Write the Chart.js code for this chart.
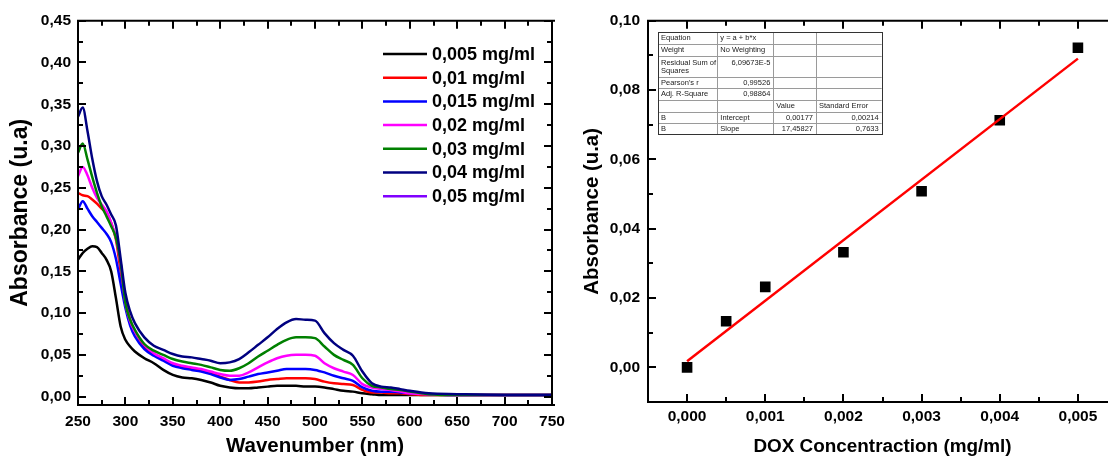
<!DOCTYPE html>
<html>
<head>
<meta charset="utf-8">
<script src="https://cdn.jsdelivr.net/npm/chart.js@4/dist/chart.umd.min.js"></script>
<style>
html,body{margin:0;padding:0;background:#fff;overflow:hidden;width:1108px;height:459px;}
#w1{position:absolute;left:0;top:0;width:590px;height:459px;}
#w2{position:absolute;left:560px;top:0;width:575px;height:459px;}
canvas{display:block;}
</style>
</head>
<body>
<div id="w1"><canvas id="c1" width="590" height="459"></canvas></div>
<div id="w2"><canvas id="c2" width="575" height="459"></canvas></div>
<script>
// ---------- Left panel: UV-Vis spectra ----------
const wavelengths = [250,255,260,265,270,275,280,285,290,295,300,305,310,320,330,340,350,360,370,380,390,400,410,420,430,440,450,460,470,480,490,500,510,520,530,540,550,560,570,580,590,600,620,650,700,750];
const abs0005 = [0.164,0.172,0.177,0.180,0.179,0.172,0.164,0.150,0.118,0.084,0.068,0.060,0.054,0.046,0.040,0.032,0.026,0.023,0.022,0.020,0.017,0.013,0.011,0.010,0.010,0.011,0.012,0.013,0.013,0.013,0.012,0.012,0.011,0.009,0.007,0.006,0.004,0.003,0.002,0.002,0.002,0.002,0.002,0.002,0.002,0.002];
const abs001 = [0.244,0.241,0.240,0.236,0.231,0.225,0.220,0.208,0.188,0.150,0.115,0.092,0.078,0.060,0.050,0.044,0.039,0.035,0.033,0.031,0.028,0.024,0.020,0.017,0.017,0.018,0.020,0.021,0.022,0.022,0.022,0.021,0.018,0.016,0.015,0.014,0.008,0.005,0.005,0.004,0.004,0.003,0.002,0.002,0.002,0.002];
const abs0015 = [0.224,0.234,0.225,0.216,0.209,0.202,0.195,0.185,0.165,0.135,0.106,0.085,0.072,0.057,0.049,0.043,0.037,0.034,0.032,0.030,0.027,0.023,0.020,0.021,0.024,0.027,0.029,0.031,0.033,0.033,0.033,0.032,0.029,0.025,0.022,0.019,0.011,0.007,0.006,0.006,0.005,0.004,0.003,0.002,0.002,0.002];
const abs002 = [0.264,0.275,0.265,0.250,0.238,0.230,0.222,0.208,0.190,0.158,0.112,0.090,0.078,0.062,0.052,0.046,0.040,0.037,0.035,0.033,0.030,0.027,0.025,0.025,0.029,0.035,0.041,0.046,0.049,0.050,0.050,0.049,0.040,0.034,0.030,0.026,0.015,0.011,0.009,0.008,0.006,0.004,0.003,0.002,0.002,0.002];
const abs003 = [0.292,0.303,0.284,0.263,0.244,0.228,0.216,0.204,0.190,0.160,0.112,0.092,0.080,0.063,0.055,0.050,0.045,0.042,0.040,0.038,0.035,0.032,0.031,0.034,0.040,0.048,0.055,0.062,0.068,0.071,0.071,0.070,0.060,0.050,0.044,0.038,0.022,0.013,0.011,0.009,0.008,0.006,0.003,0.002,0.002,0.002];
const abs004 = [0.335,0.346,0.318,0.285,0.258,0.240,0.230,0.218,0.205,0.165,0.124,0.102,0.088,0.071,0.061,0.056,0.051,0.048,0.047,0.045,0.043,0.040,0.041,0.045,0.053,0.062,0.071,0.081,0.089,0.093,0.092,0.091,0.076,0.064,0.056,0.049,0.030,0.016,0.012,0.011,0.009,0.007,0.004,0.003,0.002,0.002];
const abs005 = [];
const seriesLabels = ['0,005 mg/ml','0,01 mg/ml','0,015 mg/ml','0,02 mg/ml','0,03 mg/ml','0,04 mg/ml','0,05 mg/ml'];
const seriesValues = [abs0005, abs001, abs0015, abs002, abs003, abs004, abs005];
const seriesColors = ['#000000','#ff0000','#0000ff','#ff00ff','#008000','#000080','#8000ff'];
const specXTicks = [250,300,350,400,450,500,550,600,650,700,750];
const specXLabels = ['250','300','350','400','450','500','550','600','650','700','750'];
const specYTicks = [0,0.05,0.10,0.15,0.20,0.25,0.30,0.35,0.40,0.45];
const specYLabels = ['0,00','0,05','0,10','0,15','0,20','0,25','0,30','0,35','0,40','0,45'];

// ---------- Right panel: calibration ----------
const doxConc = [0, 0.0005, 0.001, 0.002, 0.003, 0.004, 0.005];
const doxAbs = [0.0000, 0.0133, 0.0232, 0.0332, 0.0508, 0.0713, 0.0922];
const fitConc = [0, 0.005];
const fitAbs = [0.00177, 0.08906];
const calXTicks = [0, 0.001, 0.002, 0.003, 0.004, 0.005];
const calXLabels = ['0,000','0,001','0,002','0,003','0,004','0,005'];
const calYTicks = [0, 0.02, 0.04, 0.06, 0.08, 0.10];
const calYLabels = ['0,00','0,02','0,04','0,06','0,08','0,10'];
const fitTable = [
  ['Equation','y = a + b*x','',''],
  ['Weight','No Weighting','',''],
  ['Residual Sum of\nSquares','6,09673E-5','',''],
  ["Pearson's r",'0,99526','',''],
  ['Adj. R-Square','0,98864','',''],
  ['','','Value','Standard Error'],
  ['B','Intercept','0,00177','0,00214'],
  ['B','Slope','17,45827','0,7633']
];

const FONT = "'Liberation Sans', Arial, Helvetica, sans-serif";
Chart.defaults.font.family = FONT;
Chart.defaults.color = '#000';

function makeFrame(id, drawRight) {
  return {
    id,
    afterDraw(chart) {
      const {ctx, chartArea: a, scales} = chart;
      const sx = scales.x, sy = scales.y;
      ctx.save();
      ctx.strokeStyle = '#000';
      ctx.lineWidth = 2;
      ctx.lineCap = 'square';
      ctx.beginPath();
      ctx.moveTo(a.left, a.bottom); ctx.lineTo(a.left, a.top); ctx.lineTo(a.right + 2, a.top);
      ctx.moveTo(a.left, a.bottom); ctx.lineTo(a.right + 2, a.bottom);
      if (drawRight) { ctx.moveTo(a.right, a.top); ctx.lineTo(a.right, a.bottom); }
      ctx.stroke();
      ctx.lineCap = 'butt';
      const mk = (vals) => {
        const out = [];
        vals.forEach((v, i) => {
          out.push([v, 8]);
          if (i < vals.length - 1) out.push([(v + vals[i + 1]) / 2, 5]);
        });
        return out;
      };
      ctx.beginPath();
      mk(sx.ticks.map(t => t.value)).forEach(([v, len]) => {
        const p = Math.round(sx.getPixelForValue(v));
        ctx.moveTo(p, a.bottom); ctx.lineTo(p, a.bottom - len);
        ctx.moveTo(p, a.top); ctx.lineTo(p, a.top + len);
      });
      mk(sy.ticks.map(t => t.value)).forEach(([v, len]) => {
        const p = Math.round(sy.getPixelForValue(v));
        ctx.moveTo(a.left, p); ctx.lineTo(a.left + len, p);
        if (drawRight) { ctx.moveTo(a.right, p); ctx.lineTo(a.right - len, p); }
      });
      ctx.stroke();
      ctx.restore();
    }
  };
}

const specLegend = {
  id: 'specLegend',
  afterDraw(chart) {
    const ctx = chart.ctx;
    ctx.save();
    ctx.font = 'bold 18px ' + FONT;
    ctx.textBaseline = 'middle';
    ctx.textAlign = 'left';
    chart.data.datasets.forEach((ds, i) => {
      const yy = 54 + i * 23.7;
      ctx.strokeStyle = ds.borderColor;
      ctx.lineWidth = 2.5;
      ctx.beginPath(); ctx.moveTo(383, yy); ctx.lineTo(427, yy); ctx.stroke();
      ctx.fillStyle = '#000';
      ctx.fillText(ds.label, 432, yy + 1);
    });
    ctx.restore();
  }
};

const tablePlugin = {
  id: 'fitTable',
  afterDraw(chart) {
    const ctx = chart.ctx;
    const off = 560;
    const cols = [658, 717.3, 773.3, 816, 881.7].map(v => v - off);
    const rows = [32.3, 44, 55.7, 77.3, 88.3, 100, 111.7, 123.3, 134.3];
    ctx.save();
    ctx.fillStyle = '#fff';
    ctx.fillRect(cols[0], rows[0], cols[4] - cols[0], rows[8] - rows[0]);
    ctx.strokeStyle = '#9a9a9a';
    ctx.lineWidth = 1;
    ctx.beginPath();
    for (let r = 1; r < rows.length - 1; r++) {
      const yy = Math.round(rows[r]) + 0.5;
      ctx.moveTo(cols[0], yy); ctx.lineTo(cols[4], yy);
    }
    for (let c = 1; c < cols.length - 1; c++) {
      const xx = Math.round(cols[c]) + 0.5;
      ctx.moveTo(xx, rows[0]); ctx.lineTo(xx, rows[8]);
    }
    ctx.stroke();
    ctx.strokeStyle = '#333';
    ctx.strokeRect(Math.round(cols[0]) + 0.5, Math.round(rows[0]) + 0.5, Math.round(cols[4] - cols[0]), Math.round(rows[8] - rows[0]));
    ctx.fillStyle = '#222';
    ctx.font = '7.5px ' + FONT;
    ctx.textBaseline = 'middle';
    fitTable.forEach((row, r) => {
      const top = rows[r], bot = rows[r + 1];
      row.forEach((txt, c) => {
        if (!txt) return;
        const lines = txt.split('\n');
        const numeric = /^[0-9]/.test(txt);
        const multi = row.some(t => t.includes('\n'));
        lines.forEach((ln, k) => {
          const yy = multi ? top + 7 + k * 8 : (top + bot) / 2;
          if (numeric) { ctx.textAlign = 'right'; ctx.fillText(ln, cols[c + 1] - 3, yy); }
          else { ctx.textAlign = 'left'; ctx.fillText(ln, cols[c] + 3, yy); }
        });
      });
    });
    ctx.restore();
  }
};

const tickFont = {size: 15.5, weight: 'bold', family: FONT};

new Chart(document.getElementById('c1'), {
  type: 'scatter',
  data: {
    datasets: seriesValues.map((vals, i) => ({
      label: seriesLabels[i],
      data: vals.map((v, k) => ({x: wavelengths[k], y: v})),
      showLine: true,
      borderColor: seriesColors[i],
      backgroundColor: seriesColors[i],
      borderWidth: 2.5,
      pointRadius: 0,
      cubicInterpolationMode: 'monotone',
      order: 6 - i
    }))
  },
  options: {
    responsive: false,
    devicePixelRatio: 1,
    animation: false,
    events: [],
    layout: {padding: {left: 0, top: 20.7, right: 38, bottom: 0}},
    plugins: {legend: {display: false}, tooltip: {enabled: false}},
    scales: {
      x: {
        type: 'linear', position: 'bottom', min: 250, max: 750,
        afterBuildTicks: s => { s.ticks = specXTicks.map(v => ({value: v})); },
        afterFit: s => { s.height = 54; },
        grid: {display: false, drawTicks: false},
        border: {display: false},
        ticks: {font: tickFont, color: '#000', padding: 7, maxRotation: 0, minRotation: 0, autoSkip: false,
          callback: (v, i) => specXLabels[i]},
        title: {display: true, text: 'Wavenumber (nm)', color: '#000',
          font: {size: 20.5, weight: 'bold', family: FONT}, padding: {top: 0, bottom: 0}}
      },
      y: {
        type: 'linear', position: 'left', min: -0.01, max: 0.45,
        afterBuildTicks: s => { s.ticks = specYTicks.map(v => ({value: v})); },
        afterFit: s => { s.width = 78; },
        grid: {display: false, drawTicks: false},
        border: {display: false},
        ticks: {font: tickFont, color: '#000', padding: 7, autoSkip: false,
          callback: (v, i) => specYLabels[i]},
        title: {display: true, text: 'Absorbance (u.a)', color: '#000',
          font: {size: 23, weight: 'bold', family: FONT}, padding: {top: 7, bottom: 0}}
      }
    }
  },
  plugins: [makeFrame('frame1', true), specLegend]
});

new Chart(document.getElementById('c2'), {
  type: 'scatter',
  data: {
    datasets: [
      {
        label: 'Fit',
        data: fitConc.map((c, i) => ({x: c, y: fitAbs[i]})),
        showLine: true,
        borderColor: '#ff0000',
        borderWidth: 2.5,
        pointRadius: 0,
        order: 0
      },
      {
        label: 'DOX',
        data: doxConc.map((c, i) => ({x: c, y: doxAbs[i]})),
        pointStyle: 'rect',
        pointRadius: 7.5,
        backgroundColor: '#000',
        borderColor: '#000',
        borderWidth: 0,
        order: 1
      }
    ]
  },
  options: {
    responsive: false,
    devicePixelRatio: 1,
    animation: false,
    events: [],
    layout: {padding: {left: 0, top: 20.7, right: 18, bottom: 0}},
    plugins: {legend: {display: false}, tooltip: {enabled: false}},
    scales: {
      x: {
        type: 'linear', position: 'bottom', min: -0.0005, max: 0.0055,
        afterBuildTicks: s => { s.ticks = calXTicks.map(v => ({value: v})); },
        afterFit: s => { s.height = 57; },
        grid: {display: false, drawTicks: false},
        border: {display: false},
        ticks: {font: tickFont, color: '#000', padding: 5, maxRotation: 0, minRotation: 0, autoSkip: false,
          callback: (v, i) => calXLabels[i]},
        title: {display: true, text: 'DOX Concentraction (mg/ml)', color: '#000',
          font: {size: 18.9, weight: 'bold', family: FONT}, padding: {top: 0, bottom: 1}}
      },
      y: {
        type: 'linear', position: 'left', min: -0.01, max: 0.10,
        afterBuildTicks: s => { s.ticks = calYTicks.map(v => ({value: v})); },
        afterFit: s => { s.width = 88; },
        grid: {display: false, drawTicks: false},
        border: {display: false},
        ticks: {font: tickFont, color: '#000', padding: 8, autoSkip: false,
          callback: (v, i) => calYLabels[i]},
        title: {display: true, text: 'Absorbance (u.a)', color: '#000',
          font: {size: 20.4, weight: 'bold', family: FONT}, padding: {top: 19.7, bottom: 0}}
      }
    }
  },
  plugins: [makeFrame('frame2', false), tablePlugin]
});
</script>
</body>
</html>
